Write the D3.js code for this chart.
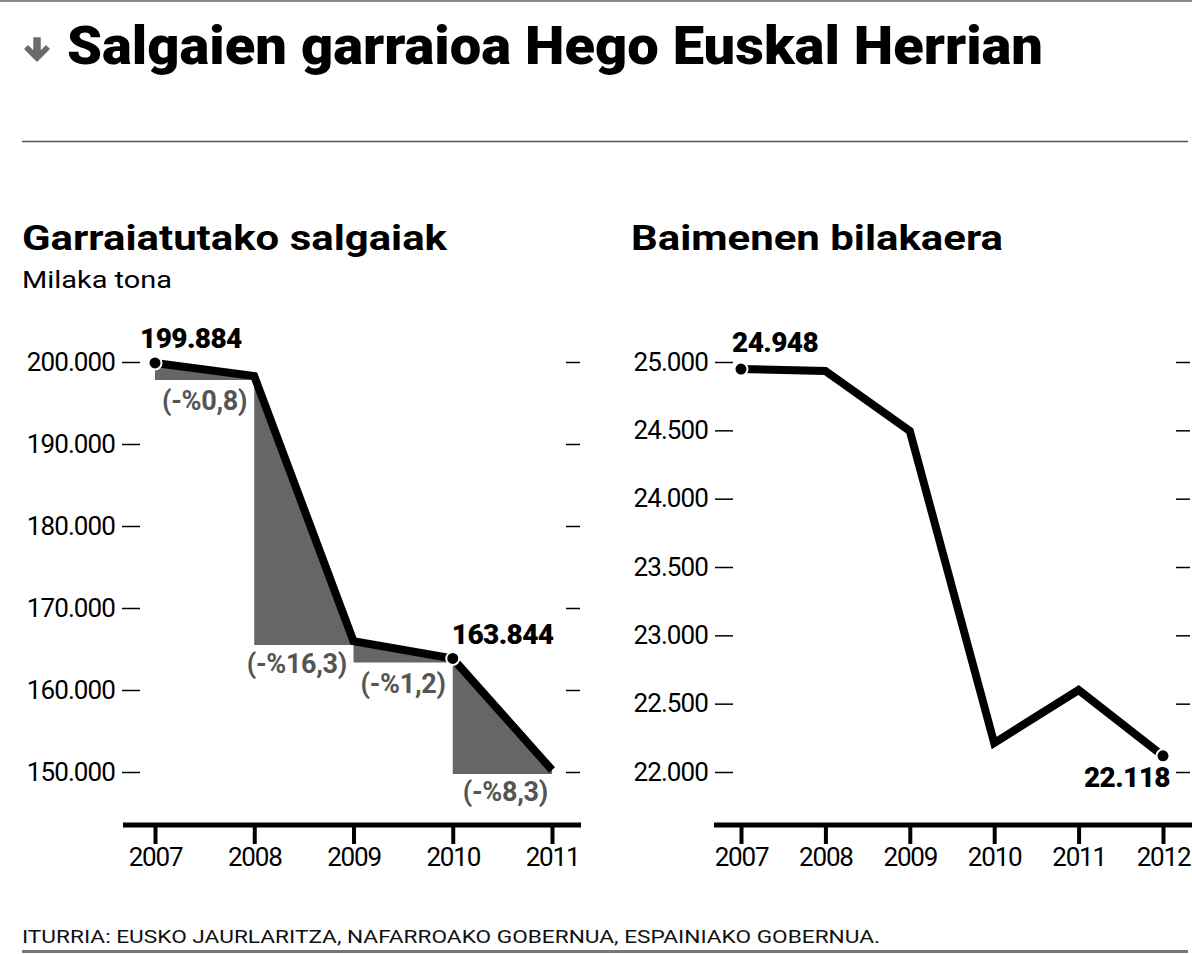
<!DOCTYPE html>
<html><head><meta charset="utf-8">
<script src="https://cdnjs.cloudflare.com/ajax/libs/d3/7.8.5/d3.min.js"></script>
<style>
body{margin:0;background:#fff;}
svg{display:block;font-family:Roboto,"Open Sans",sans-serif;}
</style></head>
<body><svg id="c" width="1192" height="954"></svg>
<script>
// Left chart: goods transported (thousand tonnes)
const yearsA = [2007, 2008, 2009, 2010, 2011];
const valuesA = [199884, 198285, 165963, 163844, 150245];
const changeLabelsA = ["(-%0,8)", "(-%16,3)", "(-%1,2)", "(-%8,3)"];
const ticksA = [150000, 160000, 170000, 180000, 190000, 200000];
const highlightA = [0, 3];

// Right chart: permits
const yearsB = [2007, 2008, 2009, 2010, 2011, 2012];
const valuesB = [24948, 24935, 24495, 22212, 22600, 22118];
const ticksB = [22000, 22500, 23000, 23500, 24000, 24500, 25000];
const highlightB = [0, 5];

const fmt = v => d3.format(",")(v).replace(/,/g, ".");
const svg = d3.select("#c");

// header
svg.append("line").attr("x1",0).attr("x2",1192).attr("y1",1).attr("y2",1).attr("stroke","#888").attr("stroke-width",2);
svg.append("path").attr("d","M34,38 L40,38 L40,52 L46,46 L49,49 L37,61 L25,49 L28,46 L34,52 Z")
  .attr("fill","#6b6b6b").attr("stroke","#6b6b6b").attr("stroke-width",1.5).attr("stroke-linejoin","round");
svg.append("text").attr("x",67).attr("y",64).attr("font-size",54).attr("font-weight",900)
  .attr("textLength",976).attr("lengthAdjust","spacingAndGlyphs").attr("fill","#000")
  .text("Salgaien garraioa Hego Euskal Herrian");
svg.append("line").attr("x1",22).attr("x2",1188).attr("y1",141.5).attr("y2",141.5).attr("stroke","#555").attr("stroke-width",1.5);

// subtitles
svg.append("text").attr("x",22).attr("y",250).attr("font-size",35).attr("font-weight",700)
  .attr("textLength",425).attr("lengthAdjust","spacingAndGlyphs").text("Garraiatutako salgaiak");
svg.append("text").attr("x",22).attr("y",288).attr("font-size",24).attr("font-weight",400)
  .attr("textLength",150).attr("lengthAdjust","spacingAndGlyphs").text("Milaka tona");
svg.append("text").attr("x",631).attr("y",250).attr("font-size",35).attr("font-weight",700)
  .attr("textLength",372).attr("lengthAdjust","spacingAndGlyphs").text("Baimenen bilakaera");

// footer
svg.append("text").attr("x",22).attr("y",943).attr("font-size",19).attr("font-weight",400)
  .attr("textLength",858).attr("lengthAdjust","spacingAndGlyphs").attr("fill","#111")
  .text("ITURRIA: EUSKO JAURLARITZA, NAFARROAKO GOBERNUA, ESPAINIAKO GOBERNUA.");
svg.append("line").attr("x1",22).attr("x2",1188).attr("y1",951.5).attr("y2",951.5).attr("stroke","#777").attr("stroke-width",3);

function drawChart(cfg){
  const g = svg.append("g");
  const x = d3.scalePoint().domain(cfg.years).range(cfg.xRange);
  const y = d3.scaleLinear().domain(cfg.yDomain).range([772, 362]);

  // left axis
  const la = g.append("g").attr("transform",`translate(${cfg.leftAxisX},0)`)
    .call(d3.axisLeft(y).tickValues(cfg.ticks).tickSize(18).tickPadding(7).tickFormat(fmt));
  la.select(".domain").remove();
  la.selectAll(".tick line").attr("stroke","#000").attr("stroke-width",1.5);
  la.selectAll(".tick text").attr("font-size",26).attr("font-family","Roboto,sans-serif")
    .attr("letter-spacing",-0.9).attr("fill","#000").attr("font-weight",400);
  // right ticks
  const ra = g.append("g").attr("transform",`translate(${cfg.rightAxisX},0)`)
    .call(d3.axisRight(y).tickValues(cfg.ticks).tickSize(14).tickFormat(""));
  ra.select(".domain").remove();
  ra.selectAll(".tick line").attr("stroke","#000").attr("stroke-width",1.5);

  // bottom axis
  g.append("line").attr("x1",cfg.baseX[0]).attr("x2",cfg.baseX[1]).attr("y1",825).attr("y2",825)
    .attr("stroke","#000").attr("stroke-width",5);
  const ba = g.append("g").attr("transform","translate(0,825)")
    .call(d3.axisBottom(x).tickSize(19).tickPadding(4));
  ba.select(".domain").remove();
  ba.selectAll(".tick line").attr("stroke","#000").attr("stroke-width",4);
  ba.selectAll(".tick text").attr("font-size",26).attr("font-family","Roboto,sans-serif")
    .attr("letter-spacing",-1.2).attr("fill","#000").attr("font-weight",400);

  const pts = cfg.years.map((yr,i)=>({yr, v: cfg.values[i]}));

  // shaded change areas
  if (cfg.changes){
    for (let i=0;i<pts.length-1;i++){
      const seg = [pts[i], pts[i+1]];
      const base = y(pts[i+1].v) + 4;
      g.append("path").datum(seg)
        .attr("d", d3.area().x(d=>x(d.yr)).y0(base).y1(d=>y(d.v)))
        .attr("fill","#666");
      const lp = cfg.changePos[i];
      g.append("text").attr("x", (x(pts[i].yr)+x(pts[i+1].yr))/2 + lp[0])
        .attr("y", base + lp[1]).attr("text-anchor","middle")
        .attr("font-size",27).attr("font-weight",700).attr("fill","#555").attr("letter-spacing",-0.3)
        .text(cfg.changes[i]);
    }
  }

  // line
  g.append("path").datum(pts)
    .attr("d", d3.line().x(d=>x(d.yr)).y(d=>y(d.v)))
    .attr("fill","none").attr("stroke","#000").attr("stroke-width",8).attr("stroke-linejoin","miter");

  // highlighted points
  cfg.highlight.forEach((idx,k)=>{
    const p = pts[idx];
    g.append("circle").attr("cx",x(p.yr)).attr("cy",y(p.v)).attr("r",6.5)
      .attr("fill","#000").attr("stroke","#fff").attr("stroke-width",2);
    const o = cfg.labelPos[k];
    g.append("text").attr("x",x(p.yr)+o[0]).attr("y",y(p.v)+o[1]).attr("text-anchor",o[2])
      .attr("font-size",28).attr("font-weight",900).attr("letter-spacing",-0.6).attr("fill","#000")
      .text(fmt(p.v));
  });
}

drawChart({
  years: yearsA, values: valuesA, yDomain:[150000,200000], ticks: ticksA,
  xRange:[155,552], leftAxisX:140, rightAxisX:566, baseX:[123,581],
  changes: changeLabelsA,
  changePos: [[0,30],[-7,28],[0,31],[3,27]],
  highlight: highlightA,
  labelPos: [[-15,-15,"start"],[-1,-14,"start"]]
});
drawChart({
  years: yearsB, values: valuesB, yDomain:[22000,25000], ticks: ticksB,
  xRange:[741,1163], leftAxisX:733, rightAxisX:1176, baseX:[714,1192],
  changes: null,
  highlight: highlightB,
  labelPos: [[-9,-17,"start"],[7,31,"end"]]
});
</script></body></html>
